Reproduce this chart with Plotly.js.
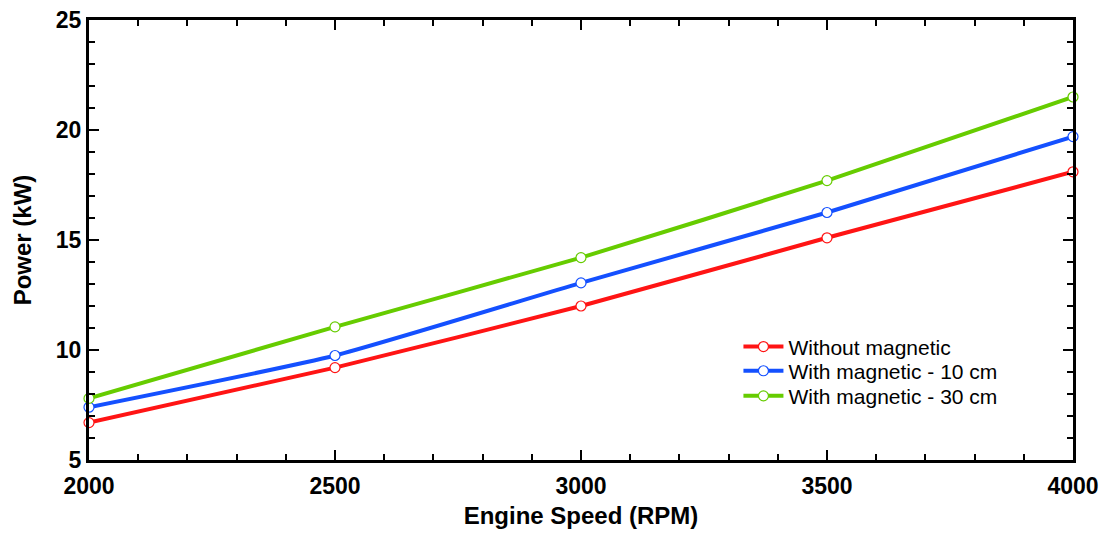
<!DOCTYPE html>
<html>
<head>
<meta charset="utf-8">
<script src="https://cdn.plot.ly/plotly-3.0.1.min.js"></script>
<style>html,body{margin:0;padding:0;background:#fff;}#chart{width:1106px;height:534px;}</style>
</head>
<body>
<div id="chart"></div>
<script>
const rpm = [2000, 2500, 3000, 3500, 4000];
const withoutMagnetic = [6.7, 9.2, 12.0, 15.1, 18.1];
const magnetic10cm = [7.4, 9.75, 13.05, 16.25, 19.7];
const magnetic30cm = [7.8, 11.05, 14.2, 17.7, 21.5];
const seriesNames = ['Without magnetic', 'With magnetic - 10 cm', 'With magnetic - 30 cm'];
const colors = ['#ff1414', '#1450ff', '#66cc00'];
const xTicks = [2000, 2500, 3000, 3500, 4000];
const yTicks = [5, 10, 15, 20, 25];

const FONT = 'Liberation Sans, Arial, sans-serif';
const ys = [withoutMagnetic, magnetic10cm, magnetic30cm];
const legendIds = ['legend', 'legend2', 'legend3'];
const traces = ys.map((y, i) => ({
  x: rpm, y: y, name: seriesNames[i], type: 'scatter', mode: 'lines+markers',
  legend: legendIds[i],
  line: {color: colors[i], width: 4, shape: 'spline', smoothing: 0.5},
  marker: {symbol: 'circle', size: 10, color: '#ffffff', line: {color: colors[i], width: 1.2}},
  cliponaxis: false
}));

const legendBase = (yPos) => ({x: 0.66, y: yPos, xanchor: 'left', yanchor: 'middle',
  bgcolor: 'rgba(0,0,0,0)', itemwidth: 40,
  font: {family: FONT, size: 21, color: '#000'}});

const axisCommon = {
  showgrid: false, zeroline: false, showline: true, linecolor: '#000', linewidth: 3,
  mirror: 'allticks', ticks: 'inside', ticklen: 10, tickwidth: 2.5, tickcolor: '#000',
  tickfont: {family: FONT, size: 23, color: '#000', weight: 'bold'}
};

const layout = {
  width: 1106, height: 534,
  margin: {l: 89, r: 33, t: 20, b: 74},
  paper_bgcolor: '#fff', plot_bgcolor: '#fff',
  showlegend: true,
  legend: legendBase(0.257),
  legend2: legendBase(0.202),
  legend3: legendBase(0.145),
  xaxis: Object.assign({}, axisCommon, {
    range: [2000, 4000], tickvals: xTicks, ticktext: xTicks.map(String),
    ticklabelstandoff: 3,
    minor: {dtick: 100, ticklen: 6, tickwidth: 2, tickcolor: '#000', ticks: 'inside'},
    title: {text: 'Engine Speed (RPM)', standoff: 10,
      font: {family: FONT, size: 24, color: '#000', weight: 'bold'}}
  }),
  yaxis: Object.assign({}, axisCommon, {
    range: [5, 25], tickvals: yTicks, ticktext: yTicks.map(String),
    minor: {dtick: 1, ticklen: 6, tickwidth: 2, tickcolor: '#000', ticks: 'inside'},
    title: {text: 'Power (kW)', standoff: 18,
      font: {family: FONT, size: 24, color: '#000', weight: 'bold'}}
  })
};

Plotly.newPlot('chart', traces, layout, {displayModeBar: false, staticPlot: true});
</script>
</body>
</html>
